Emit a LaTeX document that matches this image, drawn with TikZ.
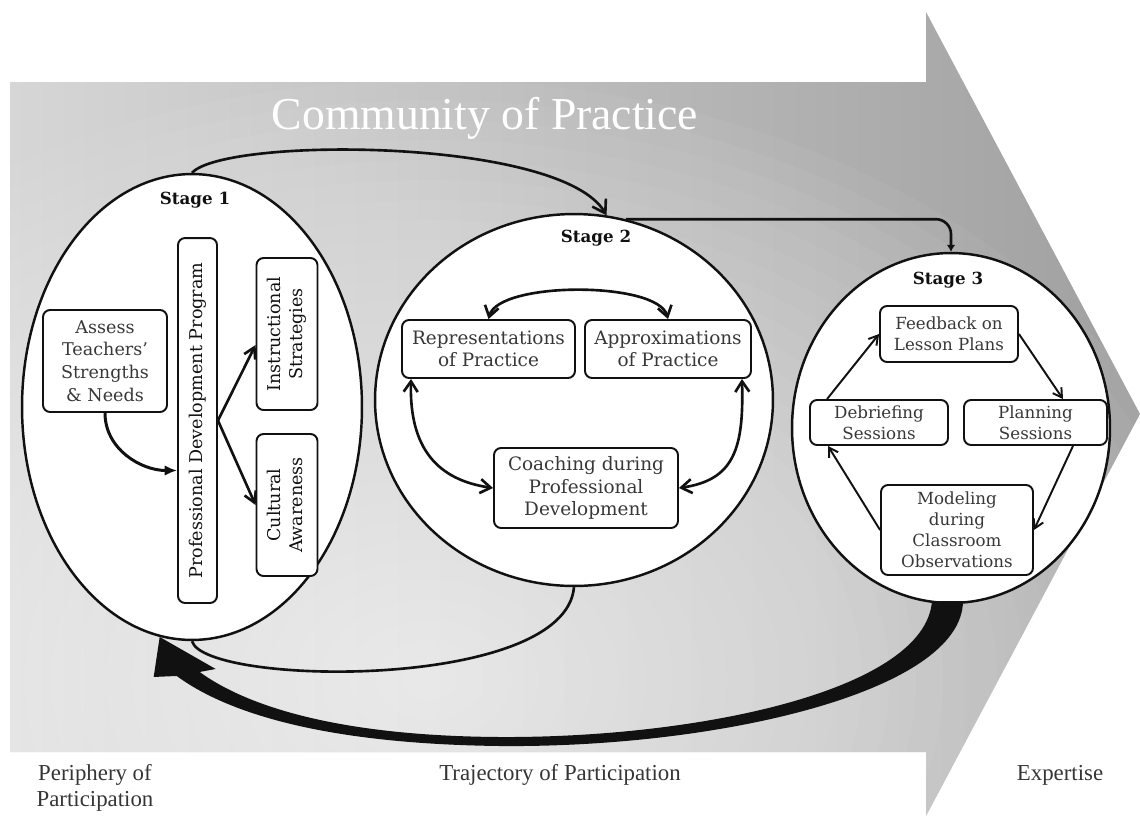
\documentclass[tikz,border=0pt]{standalone}
\usepackage{fontspec}
\setmainfont{DejaVu Serif}
\newfontfamily\labelfont{Liberation Serif}
\usetikzlibrary{arrows.meta,shapes.geometric,calc}
\definecolor{ink}{HTML}{111111}
\definecolor{boxtext}{HTML}{383838}
\definecolor{bgleft}{HTML}{D6D6D6}
\definecolor{bgright}{HTML}{A0A0A0}

\tikzset{
  stage/.style={ellipse, draw=ink, line width=1.4pt, fill=white, inner sep=0pt},
  stagelabel/.style={font=\fontsize{9.5}{11}\selectfont\bfseries, text=ink},
  box/.style={draw=ink, line width=1.1pt, rounded corners=4pt, fill=white,
    align=center, text=boxtext, inner sep=1pt, font=\fontsize{10}{13}\selectfont},
  midbox/.style={box, font=\fontsize{10.5}{12.8}\selectfont},
  smallbox/.style={box, font=\fontsize{9.5}{12}\selectfont},
  link/.style={line width=1.5pt, draw=ink},
  loopedge/.style={line width=1.1pt, draw=ink, -{Straight Barb[length=5pt,width=6pt]}},
  bottomlabel/.style={font=\labelfont\fontsize{13}{14.5}\selectfont, text=ink!85, align=center}
}

\begin{document}
\begin{tikzpicture}[x=0.02cm, y=-0.02cm]
  \useasboundingbox (0,0) rectangle (1140,816);

  % Big arrow
  \begin{scope}
    \clip (10,82) -- (926,82) -- (926,12) -- (1140,414) -- (926,816) -- (926,752) -- (10,752) -- cycle;
    \shade[left color=bgleft, right color=bgright] (10,12) rectangle (1140,816);
    \foreach \k in {1,...,30}
      \fill[white, opacity=0.045] (430,680) ellipse ({\k*27} and {\k*20});
  \end{scope}
  \node[font=\labelfont\fontsize{26}{28}\selectfont, text=white] (cop) at (485,118) {Community of Practice};

  % Stages
  \node[stage, minimum width=6.8cm, minimum height=9.32cm] (s1) at (192,407) {};
  \node[stage, minimum width=7.96cm, minimum height=7.44cm] (s2) at (574,400) {};
  \node[stage, minimum width=6.36cm, minimum height=7cm] (s3) at (951,428) {};

  % Stage 1
  \node[stagelabel] (st1) at (195,200) {Stage 1};
  \node[box, minimum width=2.48cm, minimum height=2.04cm] (assess) at (105,361)
    {Assess\\Teachers'\\Strengths\\\& Needs};
  \node[box, text=ink, minimum width=0.78cm, minimum height=7.3cm] (pd) at (197.5,420.5)
    {\rotatebox{90}{Professional Development Program}};
  \node[box, text=ink, minimum width=1.22cm, minimum height=3.04cm] (instr) at (287,334)
    {\rotatebox{90}{\begin{tabular}{@{}c@{}}Instructional\\Strategies\end{tabular}}};
  \node[box, text=ink, minimum width=1.22cm, minimum height=2.84cm] (cult) at (287,505)
    {\rotatebox{90}{\begin{tabular}{@{}c@{}}Cultural\\Awareness\end{tabular}}};
  \draw[link, line width=1.7pt, -{Latex[length=7pt,width=6pt]}] (assess.south) to[out=-90, in=180] ([yshift=-1cm]pd.west);
  \draw[link, -{Straight Barb[length=6pt,width=7pt]}] (pd.east) -- ([yshift=-0.22cm]instr.west);
  \draw[link, -{Straight Barb[length=6pt,width=7pt]}] (pd.east) -- (cult.west);

  % Stage 2
  \node[stagelabel] (st2) at (596,238) {Stage 2};
  \node[midbox, minimum width=3.46cm, minimum height=1.16cm] (rep) at (488.5,349) {Representations\\of Practice};
  \node[midbox, minimum width=3.32cm, minimum height=1.16cm] (approx) at (668,349) {Approximations\\of Practice};
  \node[midbox, minimum width=3.68cm, minimum height=1.6cm] (coach) at (586,488) {Coaching during\\Professional\\Development};
  \draw[link, {Straight Barb[length=6pt,width=8pt]}-{Straight Barb[length=6pt,width=8pt]}]
    (rep.north) .. controls +(10,-38) and +(-10,-38) .. (approx.north);
  \draw[link, {Straight Barb[length=6pt,width=8pt]}-{Straight Barb[length=6pt,width=8pt]}]
    ([xshift=0.2cm]rep.south west) .. controls +(-2,70) and +(-55,-8) .. (coach.west);
  \draw[link, {Straight Barb[length=6pt,width=8pt]}-{Straight Barb[length=6pt,width=8pt]}]
    ([xshift=-0.2cm]approx.south east) .. controls +(2,70) and +(55,-8) .. (coach.east);

  % Stage 3
  \node[stagelabel] (st3) at (948,280) {Stage 3};
  \node[smallbox, minimum width=2.76cm, minimum height=1.12cm] (fb) at (949,334) {Feedback on\\Lesson Plans};
  \node[smallbox, minimum width=2.76cm, minimum height=0.9cm] (db) at (879,422.5) {Debriefing\\Sessions};
  \node[smallbox, minimum width=2.86cm, minimum height=0.9cm] (pl) at (1035.5,422.5) {Planning\\Sessions};
  \node[smallbox, minimum width=3.04cm, minimum height=1.8cm] (md) at (957,530) {Modeling\\during\\Classroom\\Observations};
  \draw[loopedge] ([xshift=0.36cm]db.north west) -- (fb.west);
  \draw[loopedge] (fb.east) -- ([xshift=0.55cm]pl.north);
  \draw[loopedge] ([xshift=0.75cm]pl.south) -- (md.east);
  \draw[loopedge] (md.west) -- ([xshift=-1.02cm]db.south);

  % Links between stages
  \draw[link, -{Straight Barb[length=7pt,width=9pt]}] (s1.north) .. controls +(33,-36) and +(-46,-78) .. (s2.80);
  \draw[link, rounded corners=0.3cm, -{Latex[length=4pt,width=5pt]}] (s2.74) -| (s3.north);
  \draw[link] (s2.south) .. controls +(-9,104) and +(13,45) .. (s1.south);

  % Return arrow
  \coordinate (tko) at ($(s3.south)+(12,-3)$);
  \coordinate (tki) at ($(s3.south)+(-19,-3)$);
  \coordinate (tip) at (s1.262);
  \fill[ink] (tko) .. controls +(-1,90) and (720,748) .. (500,746)
    .. controls (330,744) and (230,715) .. ($(tip)+(17,39)$) -- ($(tip)+(-6,40)$) -- (tip)
    -- ($(tip)+(56,32)$) -- ($(tip)+(40,35)$) .. controls (245,705) and (335,736) .. (500,737)
    .. controls (700,738) and (925,690) .. (tki) -- cycle;

  % Bottom labels
  \node[bottomlabel] (peri) at (95,788) {Periphery of\\Participation};
  \node[bottomlabel] (traj) at (560,775) {Trajectory of Participation};
  \node[bottomlabel] (expt) at (1060,775) {Expertise};
\end{tikzpicture}
\end{document}
